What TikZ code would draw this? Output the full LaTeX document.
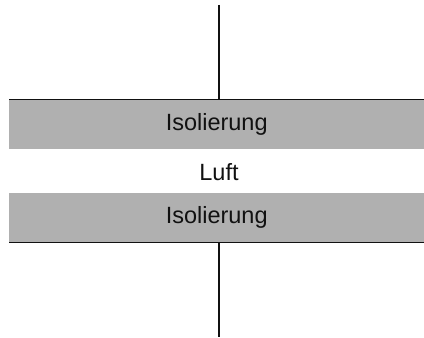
\documentclass[tikz,border=0pt]{standalone}
\usepackage{fontspec}
\setmainfont{Liberation Sans}
\usetikzlibrary{positioning}
\definecolor{layerInk}{HTML}{111111}
\definecolor{layerGray}{HTML}{B0B0B0}
\tikzset{
  every picture/.style={font=\fontsize{23.5}{28}\selectfont, text=layerInk},
  layer band/.style={fill=layerGray, draw=none, minimum width=415pt,
    minimum height=49pt, inner sep=0pt, anchor=north west},
  layer edge/.style={draw=layerInk, line width=1pt},
  layer lead/.style={draw=layerInk, line width=1.3pt}
}
\begin{document}
\begin{tikzpicture}[x=1pt,y=1pt]
  \useasboundingbox (0,0) rectangle (424,338);
  \node[layer band] (iso top) at (9,238) {Isolierung};
  \node[layer band] (iso bottom) at (9,145) {Isolierung};
  \node (air) at (219,166) {Luft};
  \draw[layer edge] (iso top.north west) -- (iso top.north east);
  \draw[layer edge] (iso bottom.south west) -- (iso bottom.south east);
  \coordinate (lead top) at (219,333);
  \coordinate (lead bottom) at (219,1);
  \draw[layer lead] (lead top) -- (lead top |- iso top.north);
  \draw[layer lead] (lead bottom |- iso bottom.south) -- (lead bottom);
\end{tikzpicture}
\end{document}
